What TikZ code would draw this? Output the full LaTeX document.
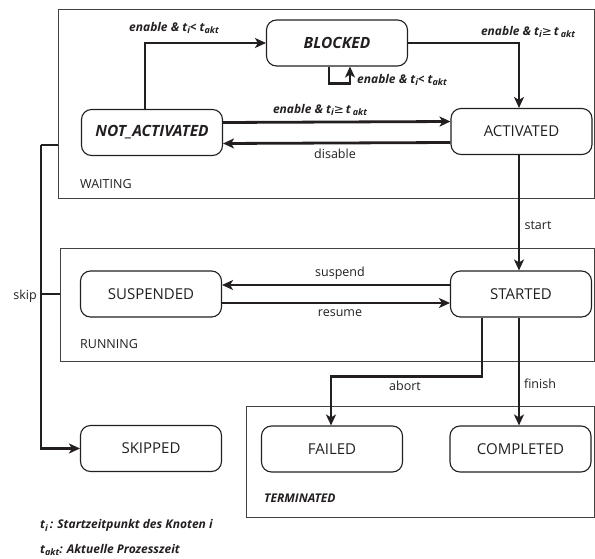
\documentclass[tikz,border=0pt]{standalone}
\usepackage{fontspec}
\setmainfont{Open Sans}
\newfontfamily\symf{DejaVu Sans}
\usetikzlibrary{arrows.meta}
\definecolor{ink}{HTML}{231F20}
% lowered subscript that keeps the current weight and shape
\newcommand\lowsub[1]{\raisebox{-0.45ex}{\fontsize{9}{10}\selectfont #1}}
\begin{document}
\begin{tikzpicture}[x=1pt,y=-1pt,
  state/.style={draw=ink, line width=1.1pt, rounded corners=10pt,
    minimum width=141pt, minimum height=46pt, inner sep=0pt,
    font=\fontsize{15}{17}\selectfont, text=ink},
  keystate/.style={state, font=\fontsize{15.5}{17}\selectfont\bfseries\itshape},
  group/.style={draw=ink!85, line width=1pt, inner sep=0pt},
  flow/.style={draw=ink, line width=2.8pt, line cap=butt,
    -{Stealth[length=11pt,width=10pt,inset=3pt]}},
  link/.style={draw=ink, line width=2.8pt},
  lbl/.style={font=\fontsize{12.5}{14}\selectfont, text=ink, inner sep=0pt},
  cond/.style={font=\fontsize{12}{14}\selectfont\bfseries\itshape, text=ink, inner sep=0pt},
]
\useasboundingbox (0,0) rectangle (595,559);

% group frames
\node[group, minimum width=536pt, minimum height=189pt] (wait) at (326,104.5) {};
\node[group, minimum width=534pt, minimum height=112pt] (run) at (327,305) {};
\node[group, minimum width=348pt, minimum height=111pt] (term) at (420,461.5) {};

\node[lbl, anchor=west] (waitlbl) at (80,184) {WAITING};
\node[lbl, anchor=west] (runlbl) at (80,344) {RUNNING};
\node[cond, anchor=west] (termlbl) at (264,498) {TERMINATED};

% states
\node[keystate] (blk) at (337,43) {BLOCKED};
\node[keystate] (na) at (152,132.5) {NOT\_ACTIVATED};
\node[state] (act) at (521.5,131.5) {ACTIVATED};
\node[state] (susp) at (151,294) {SUSPENDED};
\node[state] (st) at (521,294) {STARTED};
\node[state] (skp) at (151,448.5) {SKIPPED};
\node[state] (fail) at (332,449) {FAILED};
\node[state] (comp) at (520.5,449) {COMPLETED};

% transitions inside WAITING
\draw[flow] ([xshift=-7pt]na.north) |- (blk.west);
\draw[flow] (blk.east) -| ([xshift=-2.5pt]act.north);
\draw[flow] ([xshift=-8pt]blk.south) -- ++(0,17) -| ([xshift=13pt]blk.south);
\draw[flow] ([yshift=10pt]na.east) -- ([yshift=10pt]act.west);
\draw[flow] ([yshift=-11pt]act.west) -- ([yshift=-11pt]na.east);

\node[cond] (c1) at (174,28) {enable \& t\lowsub{i}< t\lowsub{akt}};
\node[cond] (c2) at (528,32) {enable \& t\lowsub{i}{\mdseries\symf ≥}\,t\,\lowsub{akt}};
\node[cond, anchor=west] (c3) at (357,80) {enable \& t\lowsub{i}< t\lowsub{akt}};
\node[cond] (c4) at (320,110) {enable \& t\lowsub{i}{\mdseries\symf ≥}\,t\,\lowsub{akt}};
\node[lbl] (l1) at (335,154) {disable};

% WAITING to RUNNING
\draw[flow] ([xshift=-2.5pt]act.south) -- ([xshift=-2pt]st.north);
\node[lbl] (l2) at (538,225) {start};

% transitions inside RUNNING
\draw[flow] ([yshift=9pt]st.west) -- ([yshift=9pt]susp.east);
\draw[flow] ([yshift=-9pt]susp.east) -- ([yshift=-9pt]st.west);
\node[lbl] (l3) at (340,273) {suspend};
\node[lbl] (l4) at (340,313) {resume};

% termination
\draw[flow] ([xshift=-39pt]st.south) -- ++(0,59) -| ([xshift=-1pt]fail.north);
\draw[flow] ([xshift=-2pt]st.south) -- ([xshift=-1.5pt]comp.north);
\node[lbl] (l5) at (405,386) {abort};
\node[lbl] (l6) at (540,384) {finish};

% skip bus
\coordinate (bus) at (41,145);
\draw[link] (bus -| wait.west) -- (bus);
\draw[link] (susp -| run.west) -- (susp -| bus);
\draw[flow] (bus) |- (skp.west);
\node[lbl] (l7) at (25,296) {skip};

% legend
\node[cond, anchor=west] (leg1) at (40,525) {t\lowsub{i}\,: Startzeitpunkt des Knoten i};
\node[cond, anchor=west] (leg2) at (40,550) {t\lowsub{akt}: Aktuelle Prozesszeit};
\end{tikzpicture}
\end{document}
